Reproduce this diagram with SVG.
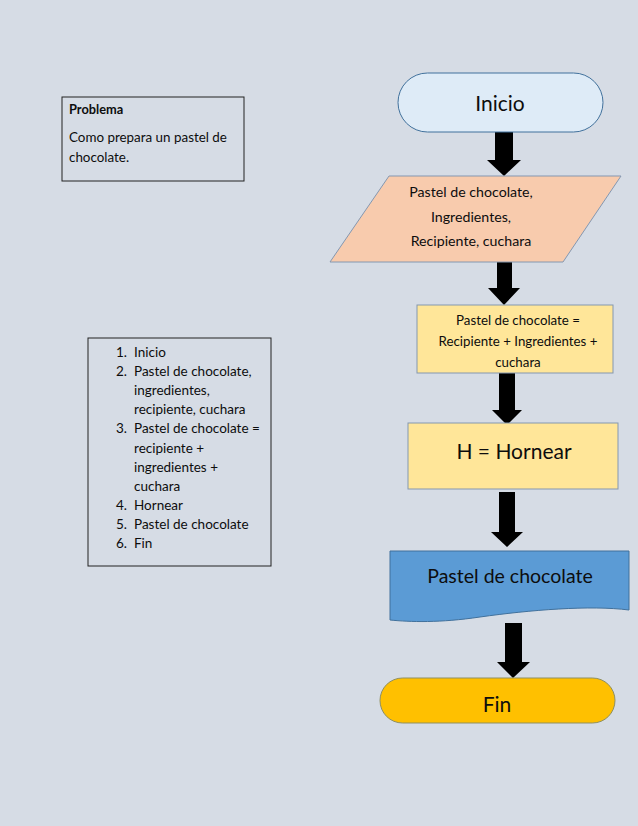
<svg xmlns="http://www.w3.org/2000/svg" width="638" height="826" viewBox="0 0 638 826">
<style>
text{font-family:Lato,"Open Sans","Liberation Sans",sans-serif;fill:#0d0d0d}
.box{fill:#d6dce5;stroke:#222;stroke-width:1}
.proc{fill:#ffe699;stroke:#8497b0;stroke-width:1}
.arrow{fill:#000}
.c{text-anchor:middle}
</style>
<rect width="638" height="826" fill="#d6dce5"/>
<g id="problema">
<rect class="box" x="62" y="97" width="182" height="84"/>
<text x="69" y="114" font-size="12.8" font-weight="bold">Problema</text>
<text x="69" y="142" font-size="13.4">Como prepara un pastel de</text>
<text x="69" y="162" font-size="13.4">chocolate.</text>
</g>
<g id="lista">
<rect class="box" x="88" y="338" width="183" height="228"/>
<text x="116" y="357" font-size="13.5">1.</text><text x="134" y="357" font-size="13.5">Inicio</text>
<text x="116" y="376" font-size="13.5">2.</text><text x="134" y="376" font-size="13.5">Pastel de chocolate,</text>
<text x="134" y="395" font-size="13.5">ingredientes,</text>
<text x="134" y="414" font-size="13.5">recipiente, cuchara</text>
<text x="116" y="433" font-size="13.5">3.</text><text x="134" y="433" font-size="13.5">Pastel de chocolate =</text>
<text x="134" y="453" font-size="13.5">recipiente +</text>
<text x="134" y="472" font-size="13.5">ingredientes +</text>
<text x="134" y="491" font-size="13.5">cuchara</text>
<text x="116" y="510" font-size="13.5">4.</text><text x="134" y="510" font-size="13.5">Hornear</text>
<text x="116" y="529" font-size="13.5">5.</text><text x="134" y="529" font-size="13.5">Pastel de chocolate</text>
<text x="116" y="548" font-size="13.5">6.</text><text x="134" y="548" font-size="13.5">Fin</text>
</g>
<g id="connectors">
<polygon class="arrow" points="495,132 513,132 513,160 521,160 504,176 487,160 495,160"/>
<polygon class="arrow" points="497,262 512,262 512,288 520,288 504,305 488,288 497,288"/>
<polygon class="arrow" points="499,373 515,373 515,410 522,410 507,425 492,410 499,410"/>
<polygon class="arrow" points="499,492 515,492 515,532 523,532 507,547 491,532 499,532"/>
<polygon class="arrow" points="505,623 522,623 522,662 530,662 513,678 497,662 505,662"/>
</g>
<g id="inicio">
<rect x="398" y="73" width="205" height="59" rx="29.5" fill="#deebf7" stroke="#41719c" stroke-width="1"/>
<text class="c" x="500" y="111" font-size="21">Inicio</text>
</g>
<g id="entrada">
<polygon points="389,176 621,176 563,262 330,262" fill="#f8cbad" stroke="#8497b0" stroke-width="1"/>
<text class="c" x="471" y="197" font-size="14.2">Pastel de chocolate,</text>
<text class="c" x="471" y="222" font-size="14.2">Ingredientes,</text>
<text class="c" x="471" y="246" font-size="14.2">Recipiente, cuchara</text>
</g>
<g id="proceso">
<rect class="proc" x="417" y="305" width="196" height="68"/>
<text class="c" x="518" y="325" font-size="13.3">Pastel de chocolate =</text>
<text class="c" x="518" y="346" font-size="13.3">Recipiente + Ingredientes +</text>
<text class="c" x="518" y="367" font-size="13.3">cuchara</text>
</g>
<g id="hornear">
<rect class="proc" x="408" y="423" width="210" height="66"/>
<text class="c" x="514" y="459" font-size="21">H = Hornear</text>
</g>
<g id="documento">
<path d="M390,551 H629 V610 C590,605 530,610 480,617 C440,623 410,622 390,620 Z" fill="#5b9bd5" stroke="#41719c" stroke-width="1"/>
<text class="c" x="510" y="583" font-size="19.5">Pastel de chocolate</text>
</g>
<g id="fin">
<rect x="380" y="678" width="235" height="45" rx="22.5" fill="#ffc000" stroke="#8f8f5f" stroke-width="1"/>
<text class="c" x="497" y="712" font-size="21">Fin</text>
</g>
</svg>
